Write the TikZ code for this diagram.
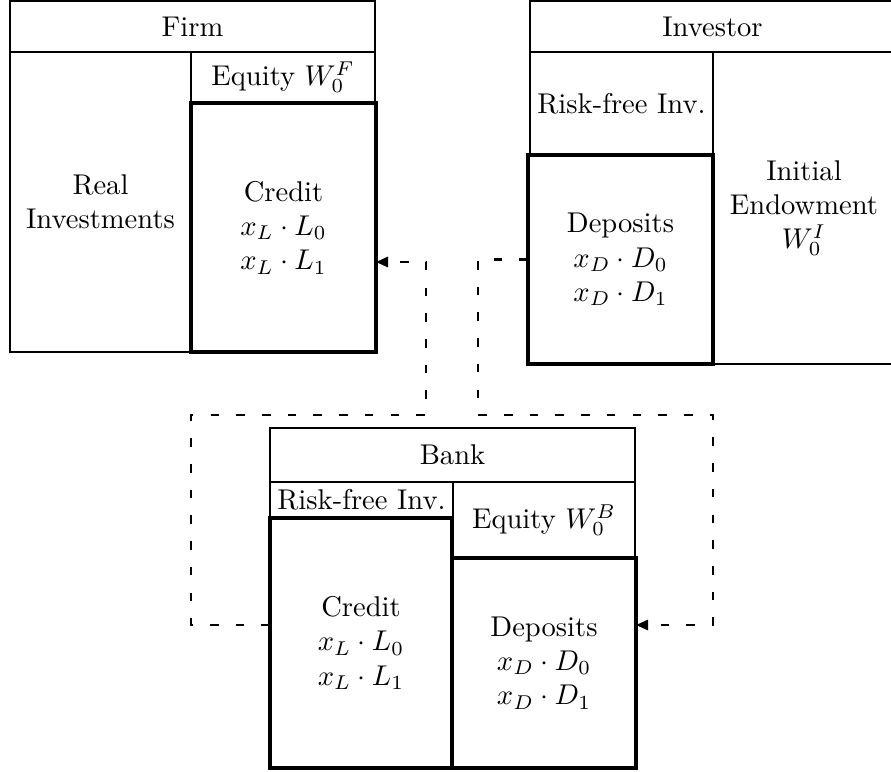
\documentclass[tikz,border=0pt]{standalone}
\usetikzlibrary{arrows.meta}
\tikzset{
  box/.style={draw, line width=0.6pt, inner sep=0pt, outer sep=0pt, align=center, font=\normalsize},
  thickbox/.style={box, line width=1.4pt},
  sz/.style 2 args={minimum width={#1*0.35pt}, minimum height={#2*0.35pt}},
  conn/.style={line width=0.75pt, dash pattern=on 3pt off 6pt, -{Triangle[length=4.2pt,width=3.6pt]}},
}
\begin{document}
\begin{tikzpicture}[x=0.35pt, y=-0.35pt]
\useasboundingbox (0,0) rectangle (891,771);
% Firm
\node[box, sz={365}{51}] (firmhead) at (192.5,26.5) {Firm};
\node[box, sz={181}{300}] (firmreal) at (100.5,202) {Real\\Investments};
\node[box, sz={184}{50}] (firmeq) at (283,77) {Equity $W_0^F$};
\node[thickbox, sz={185}{249}] (firmcredit) at (283.5,227.5) {Credit\\$x_L\cdot L_0$\\$x_L\cdot L_1$};
% Investor
\node[box, sz={365}{51}] (invhead) at (712.5,26.5) {Investor};
\node[box, sz={183}{103}] (invrf) at (621.5,103.5) {Risk-free Inv.};
\node[box, sz={182}{312}] (invend) at (804,208) {Initial\\Endowment\\$W_0^I$};
\node[thickbox, sz={185}{209}] (invdep) at (620.5,259.5) {Deposits\\$x_D\cdot D_0$\\$x_D\cdot D_1$};
% Bank
\node[box, sz={365}{54}] (bankhead) at (452.5,455) {Bank};
\node[box, sz={183}{36}] (bankrf) at (361.5,500) {Risk-free Inv.};
\node[box, sz={182}{76}] (bankeq) at (544,520) {Equity $W_0^B$};
\node[thickbox, sz={182}{250}] (bankcredit) at (361,643) {Credit\\$x_L\cdot L_0$\\$x_L\cdot L_1$};
\node[thickbox, sz={184}{210}] (bankdep) at (544,663) {Deposits\\$x_D\cdot D_0$\\$x_D\cdot D_1$};
% connector coordinates
\coordinate (a1) at (478,415);
\coordinate (a2) at (713,625);
\coordinate (ylow) at (0,625);
\coordinate (b1) at (191,415);
\coordinate (b2) at (426,262);
% connectors
\draw[conn] (invdep.west) -| (a1) -| (a2) -- (bankdep.east |- a2);
\draw[conn] (bankcredit.west |- ylow) -| (b1) -| (b2) -- (firmcredit.east |- b2);
\end{tikzpicture}
\end{document}
